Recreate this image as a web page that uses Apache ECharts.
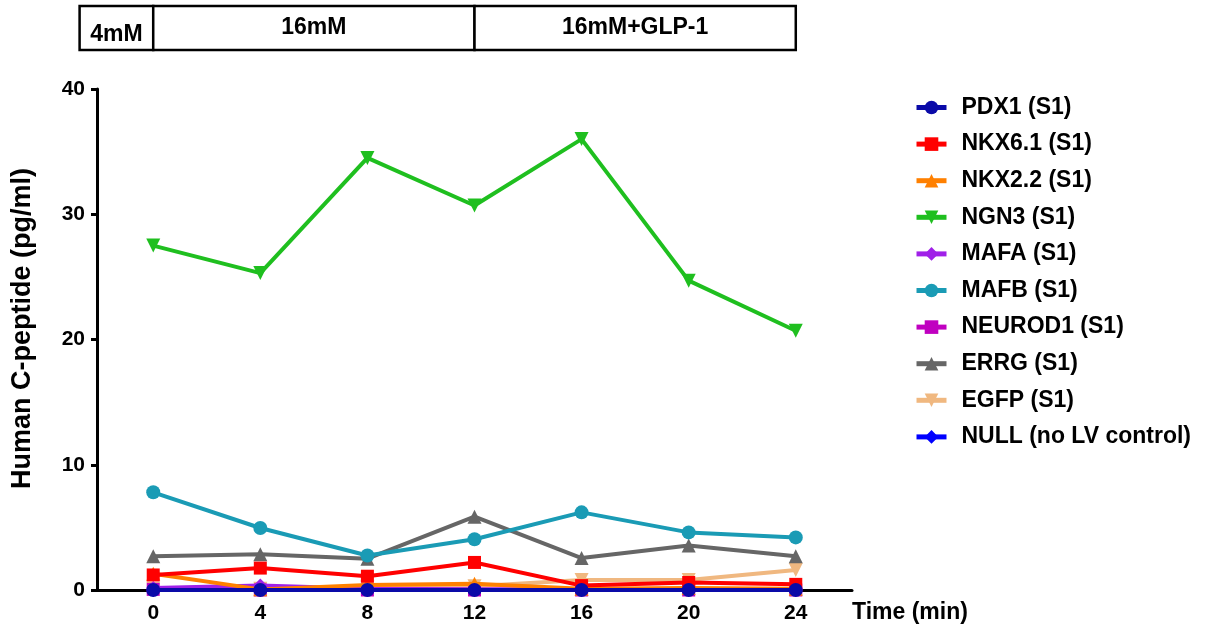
<!DOCTYPE html>
<html>
<head>
<meta charset="utf-8">
<script src="https://cdn.jsdelivr.net/npm/echarts@6/dist/echarts.min.js"></script>
<style>html,body{margin:0;padding:0;background:#fff;}#c{width:1212px;height:630px;}</style>
</head>
<body>
<div id="c"></div>
<script>
const timePoints = [0, 4, 8, 12, 16, 20, 24];
const tickLabels = [0, 4, 8, 12, 16, 20, 24];
const pdx1    = [0, 0, 0, 0, 0, 0, 0];
const nkx61   = [1.2, 1.75, 1.1, 2.2, 0.35, 0.6, 0.45];
const nkx22   = [1.3, 0.05, 0.4, 0.5, 0.1, 0.15, 0.1];
const ngn3    = [27.5, 25.3, 34.5, 30.7, 36.0, 24.7, 20.7];
const mafa    = [0.15, 0.35, 0.1, 0.05, 0.05, 0.05, 0.05];
const mafb    = [7.8, 4.95, 2.75, 4.05, 6.2, 4.6, 4.2];
const neurod1 = [0.05, 0, 0, 0, 0, 0, 0];
const errg    = [2.7, 2.85, 2.5, 5.85, 2.55, 3.55, 2.7];
const egfp    = [0.1, 0.1, 0.2, 0.3, 0.8, 0.8, 1.6];
const nullCtl = [0, 0, 0, 0, 0, 0, 0];

const phaseStarts = [-2.75, 0, 12];
const phaseEnds   = [0, 12, 24];
const phaseLabels = ['4mM', '16mM', '16mM+GLP-1'];

const FONT = "'Liberation Sans', Arial, Helvetica, sans-serif";

const seriesDefs = [
  {name: 'PDX1 (S1)', data: pdx1, color: '#0a0aa8', symbol: 'circle', size: 14, rot: 0},
  {name: 'NKX6.1 (S1)', data: nkx61, color: '#ff0000', symbol: 'rect', size: 13, rot: 0},
  {name: 'NKX2.2 (S1)', data: nkx22, color: '#ff8000', symbol: 'triangle', size: 14, rot: 0},
  {name: 'NGN3 (S1)', data: ngn3, color: '#1fbf1f', symbol: 'triangle', size: 14, rot: 180},
  {name: 'MAFA (S1)', data: mafa, color: '#a020e8', symbol: 'diamond', size: 14, rot: 0},
  {name: 'MAFB (S1)', data: mafb, color: '#1a9bb5', symbol: 'circle', size: 14, rot: 0},
  {name: 'NEUROD1 (S1)', data: neurod1, color: '#c000c0', symbol: 'rect', size: 13, rot: 0},
  {name: 'ERRG (S1)', data: errg, color: '#666666', symbol: 'triangle', size: 14, rot: 0},
  {name: 'EGFP (S1)', data: egfp, color: '#f0b880', symbol: 'triangle', size: 14, rot: 180},
  {name: 'NULL (no LV control)', data: nullCtl, color: '#0000ff', symbol: 'diamond', size: 14, rot: 0}
];

const n = seriesDefs.length;
const lineSeries = seriesDefs.map((d, i) => ({
  name: d.name,
  type: 'line',
  xAxisIndex: 0,
  yAxisIndex: 0,
  data: timePoints.map((t, k) => [t, d.data[k]]),
  symbol: d.symbol,
  symbolSize: d.size,
  symbolRotate: d.rot,
  showAllSymbol: true,
  lineStyle: {color: d.color, width: 4},
  itemStyle: {color: d.color},
  z: 2 + (n - i),
  animation: false
}));

const phaseSeries = {
  type: 'custom',
  xAxisIndex: 1,
  yAxisIndex: 1,
  clip: false,
  silent: true,
  data: phaseStarts.map((s, i) => [s, phaseEnds[i]]),
  renderItem: function (params, api) {
    const a = api.coord([api.value(0), 1]);
    const b = api.coord([api.value(1), 0]);
    return {
      type: 'group',
      children: [
        {type: 'rect', shape: {x: a[0], y: a[1], width: b[0] - a[0], height: b[1] - a[1]},
         style: {fill: '#fff', stroke: '#000', lineWidth: 2.5}},
        {type: 'text', style: {text: phaseLabels[params.dataIndex], x: (a[0] + b[0]) / 2, y: (a[1] + b[1]) / 2 + (params.dataIndex === 0 ? 7 : 0),
          align: 'center', verticalAlign: 'middle', fill: '#000',
          font: 'bold 23px ' + FONT}}
      ]
    };
  },
  animation: false
};

const chart = echarts.init(document.getElementById('c'), null, {renderer: 'canvas'});
chart.setOption({
  backgroundColor: '#fff',
  animation: false,
  textStyle: {fontFamily: FONT},
  grid: [
    {left: 97, right: 360, top: 89, bottom: 40},
    {left: 97, right: 360, top: 6, height: 44}
  ],
  legend: {
    orient: 'vertical',
    left: 909,
    top: 91,
    itemWidth: 30,
    itemHeight: 17,
    itemGap: 13.6,
    lineStyle: {width: 5},
    textStyle: {fontSize: 23, fontWeight: 'bold', color: '#000', fontFamily: FONT, padding: [0, 0, 0, 10]},
    data: seriesDefs.map(d => d.name)
  },
  xAxis: [
    {
      type: 'value', gridIndex: 0, min: -2.1, max: 26.1,
      name: 'Time (min)', nameLocation: 'end', nameGap: 0,
      nameTextStyle: {fontSize: 23, fontWeight: 'bold', color: '#000', fontFamily: FONT,
        align: 'left', verticalAlign: 'top', padding: [11, 0, 0, 0]},
      axisLine: {show: true, onZero: false, lineStyle: {color: '#000', width: 3}},
      axisTick: {show: false},
      splitLine: {show: false},
      axisLabel: {customValues: tickLabels, fontSize: 21, fontWeight: 'bold', color: '#000', margin: 13, fontFamily: FONT}
    },
    {type: 'value', gridIndex: 1, min: -2.1, max: 26.1, show: false}
  ],
  yAxis: [
    {
      type: 'value', gridIndex: 0, min: 0, max: 40, interval: 10,
      name: 'Human C-peptide (pg/ml)', nameLocation: 'middle', nameGap: 61,
      nameTextStyle: {fontSize: 27, fontWeight: 'bold', color: '#000', fontFamily: FONT, padding: [0, 0, 0, 22]},
      axisLine: {show: true, onZero: false, lineStyle: {color: '#000', width: 3}},
      axisTick: {show: true, inside: false, length: 6, lineStyle: {color: '#000', width: 3}},
      splitLine: {show: false},
      axisLabel: {fontSize: 21, fontWeight: 'bold', color: '#000', margin: 12, fontFamily: FONT}
    },
    {type: 'value', gridIndex: 1, min: 0, max: 1, show: false}
  ],
  series: lineSeries.concat([phaseSeries])
});
</script>
</body>
</html>
